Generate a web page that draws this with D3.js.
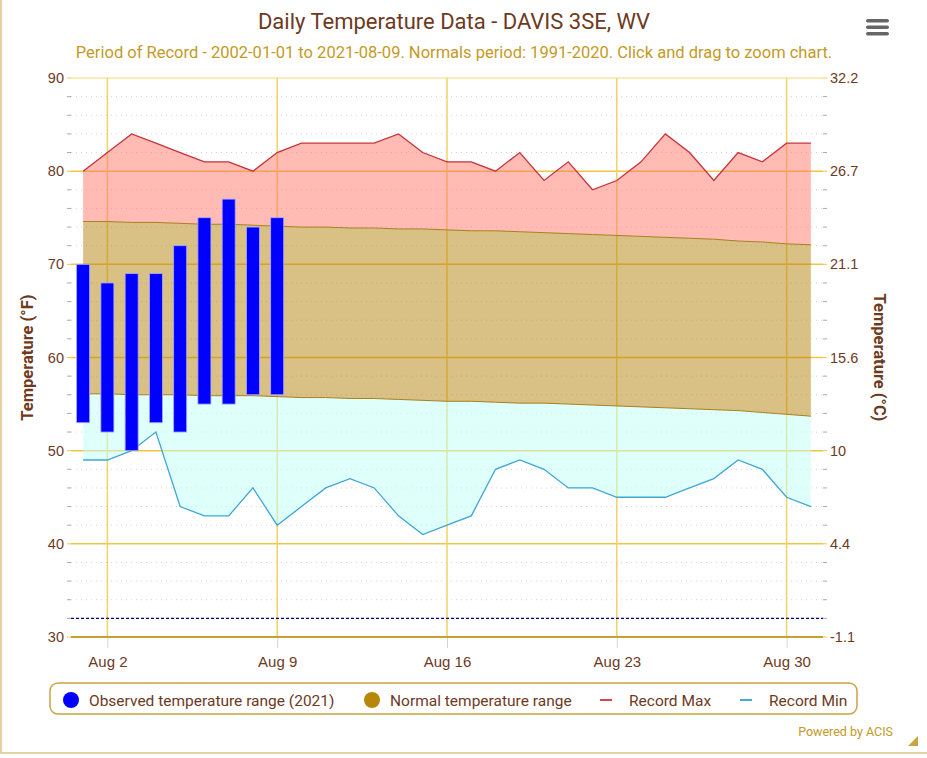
<!DOCTYPE html>
<html>
<head>
<meta charset="utf-8">
<script src="https://cdn.jsdelivr.net/npm/d3@7"></script>
<style>
  html, body { margin: 0; padding: 0; background: #fff; }
  svg { display: block; font-family: Roboto, "Noto Sans", sans-serif; }
</style>
</head>
<body>
<svg id="chart"></svg>
<script>
const width = 927;
const height = 758;

// August 2021, day of month
const days = d3.range(1, 32);
const recMax = [80, 82, 84, 83, 82, 81, 81, 80, 82, 83, 83, 83, 83, 84, 82, 81,
                81, 80, 82, 79, 81, 78, 79, 81, 84, 82, 79, 82, 81, 83, 83];
const recMin = [49, 49, 50, 52, 44, 43, 43, 46, 42, 44, 46, 47, 46, 43, 41, 42,
                43, 48, 49, 48, 46, 46, 45, 45, 45, 46, 47, 49, 48, 45, 44];
const normMax = [74.6, 74.6, 74.5, 74.5, 74.4, 74.3, 74.3, 74.2, 74.1, 74.0, 74.0,
                 73.9, 73.9, 73.8, 73.8, 73.7, 73.6, 73.6, 73.5, 73.4, 73.3, 73.2,
                 73.1, 73.0, 72.9, 72.8, 72.7, 72.5, 72.4, 72.2, 72.1];
const normMin = [56.1, 56.1, 56.0, 56.0, 56.0, 55.9, 55.9, 55.9, 55.8, 55.7, 55.7,
                 55.6, 55.6, 55.5, 55.4, 55.3, 55.3, 55.2, 55.1, 55.1, 55.0, 54.9,
                 54.8, 54.7, 54.6, 54.5, 54.4, 54.3, 54.1, 53.9, 53.7];
const obsDays = [1, 2, 3, 4, 5, 6, 7, 8, 9];
const obsLow  = [53, 52, 50, 53, 52, 55, 55, 56, 56];
const obsHigh = [70, 68, 69, 69, 72, 75, 77, 74, 75];

const fTicks = [30, 40, 50, 60, 70, 80, 90];
const fMinor = [32, 34, 36, 38, 42, 44, 46, 48, 52, 54, 56, 58, 62, 64, 66, 68, 72, 74, 76, 78, 82, 84, 86, 88];
const dateTicks = [2, 9, 16, 23, 30];
const freezing = 32;

const legendItems = [
  { label: "Observed temperature range (2021)", kind: "dot", color: "#0000ff" },
  { label: "Normal temperature range", kind: "dot", color: "#b8860b" },
  { label: "Record Max", kind: "line", color: "#d9434a" },
  { label: "Record Min", kind: "line", color: "#45a9de" }
];

const brown = "#6d3a1e";
const gold = "#c49a26";

const plot = { left: 71, right: 823, top: 78, bottom: 637 };
const day = d => new Date(2021, 7, d);

const svg = d3.select("#chart").attr("width", width).attr("height", height);

// outer frame
svg.append("rect")
   .attr("x", 1).attr("y", -2).attr("width", width + 2).attr("height", 755)
   .attr("fill", "none").attr("stroke", "#dcc583").attr("stroke-width", 1.5);

const xScale = d3.scaleTime()
                 .domain([new Date(2021, 6, 31, 12), new Date(2021, 7, 31, 12)])
                 .range([plot.left, plot.right]);
const yScale = d3.scaleLinear().domain([30, 90]).range([plot.bottom, plot.top]);
const cScale = d3.scaleLinear()
                 .domain([(30 - 32) * 5 / 9, (90 - 32) * 5 / 9])
                 .range([plot.bottom, plot.top]);

// minor dotted grid
svg.append("g").selectAll("line").data(fMinor).enter().append("line")
   .attr("x1", plot.left).attr("x2", plot.right)
   .attr("y1", d => yScale(d)).attr("y2", d => yScale(d))
   .attr("stroke", "#d4d4d4").attr("stroke-dasharray", "1,4");

// major horizontal grid
svg.append("g").selectAll("line").data(fTicks.slice(1)).enter().append("line")
   .attr("x1", plot.left).attr("x2", plot.right)
   .attr("y1", d => yScale(d)).attr("y2", d => yScale(d))
   .attr("stroke", d => d === 90 ? "#f8e5a0" : "#f3c440").attr("stroke-width", 1.5);

// vertical grid
svg.append("g").selectAll("line").data(dateTicks).enter().append("line")
   .attr("x1", d => xScale(day(d))).attr("x2", d => xScale(day(d)))
   .attr("y1", plot.top).attr("y2", plot.bottom)
   .attr("stroke", "#f3d262").attr("stroke-width", 1.5);

const area = (hi, lo) => d3.area()
  .x((d, i) => xScale(day(days[i])))
  .y0((d, i) => yScale(lo[i]))
  .y1((d, i) => yScale(hi[i]));

const line = arr => d3.line()
  .x((d, i) => xScale(day(days[i])))
  .y((d, i) => yScale(arr[i]));

// record max band
svg.append("path").datum(days).attr("d", area(recMax, normMax))
   .attr("fill", "rgb(255,120,105)").attr("fill-opacity", 0.5);
// record min band
svg.append("path").datum(days).attr("d", area(normMin, recMin))
   .attr("fill", "rgb(192,255,248)").attr("fill-opacity", 0.5);
// normal band
svg.append("path").datum(days).attr("d", area(normMax, normMin))
   .attr("fill", "rgb(180,130,10)").attr("fill-opacity", 0.5);
svg.append("path").datum(days).attr("d", line(normMax))
   .attr("fill", "none").attr("stroke", "#a8801e").attr("stroke-width", 1);
svg.append("path").datum(days).attr("d", line(normMin))
   .attr("fill", "none").attr("stroke", "#a8801e").attr("stroke-width", 1);

svg.append("path").datum(days).attr("d", line(recMax))
   .attr("fill", "none").attr("stroke", "#c8323a").attr("stroke-width", 1.3);
svg.append("path").datum(days).attr("d", line(recMin))
   .attr("fill", "none").attr("stroke", "#3ea6d6").attr("stroke-width", 1.3);

// observed bars
const barW = 13;
svg.append("g").selectAll("rect").data(obsDays).enter().append("rect")
   .attr("x", d => xScale(day(d)) - barW / 2)
   .attr("width", barW)
   .attr("y", (d, i) => yScale(obsHigh[i]))
   .attr("height", (d, i) => yScale(obsLow[i]) - yScale(obsHigh[i]))
   .attr("fill", "#0000ff").attr("stroke", "#a8a8ff").attr("stroke-width", 0.8);

// freezing line
svg.append("line")
   .attr("x1", plot.left).attr("x2", plot.right)
   .attr("y1", yScale(freezing)).attr("y2", yScale(freezing))
   .attr("stroke", "#000080").attr("stroke-width", 1.3).attr("stroke-dasharray", "3,2");

// bottom axis line
svg.append("line")
   .attr("x1", plot.left).attr("x2", plot.right)
   .attr("y1", plot.bottom).attr("y2", plot.bottom)
   .attr("stroke", "#c8a032").attr("stroke-width", 2);

// x axis
const xAxis = d3.axisBottom(xScale)
                .tickValues(dateTicks.map(day))
                .tickFormat(d3.timeFormat("%b %-d"))
                .tickSize(10).tickSizeOuter(0);
const gx = svg.append("g")
   .attr("transform", "translate(0," + (plot.bottom + 1) + ")")
   .call(xAxis);
gx.select(".domain").remove();
gx.selectAll(".tick line").attr("stroke", "#ccd6eb");
gx.selectAll(".tick text").attr("fill", brown).attr("font-size", 15).attr("dy", "1.05em");

// left axis
const yAxis = d3.axisLeft(yScale).tickValues(fTicks).tickSize(0).tickPadding(7);
const gy = svg.append("g").attr("transform", "translate(" + plot.left + ",0)").call(yAxis);
gy.select(".domain").remove();
gy.selectAll(".tick text").attr("fill", brown).attr("font-size", 14.5);
svg.append("g").selectAll("line").data(fMinor.concat(fTicks)).enter().append("line")
   .attr("x1", plot.left - 4).attr("x2", plot.left)
   .attr("y1", d => yScale(d)).attr("y2", d => yScale(d))
   .attr("stroke", d => fTicks.includes(d) ? "#f3c648" : "#aaa").attr("stroke-width", 1);

// right axis (Celsius)
const yAxisC = d3.axisRight(cScale)
                 .tickValues(fTicks.map(f => (f - 32) * 5 / 9))
                 .tickFormat(v => String(+v.toFixed(1)))
                 .tickSize(0).tickPadding(7);
const gc = svg.append("g").attr("transform", "translate(" + plot.right + ",0)").call(yAxisC);
gc.select(".domain").remove();
gc.selectAll(".tick text").attr("fill", brown).attr("font-size", 14.5);
svg.append("g").selectAll("line").data(fMinor.concat(fTicks)).enter().append("line")
   .attr("x1", plot.right).attr("x2", plot.right + 4)
   .attr("y1", d => yScale(d)).attr("y2", d => yScale(d))
   .attr("stroke", d => fTicks.includes(d) ? "#f3c648" : "#aaa").attr("stroke-width", 1);

// axis titles
svg.append("text")
   .attr("transform", "translate(33," + yScale(60) + ") rotate(-90)")
   .attr("text-anchor", "middle").attr("fill", brown)
   .attr("font-size", 16.5).attr("font-weight", "bold")
   .text("Temperature (°F)");
svg.append("text")
   .attr("transform", "translate(874," + yScale(60) + ") rotate(90)")
   .attr("text-anchor", "middle").attr("fill", brown)
   .attr("font-size", 16.5).attr("font-weight", "bold")
   .text("Temperature (°C)");

// titles
svg.append("text").attr("x", 454).attr("y", 29)
   .attr("text-anchor", "middle").attr("fill", brown).attr("font-size", 22)
   .text("Daily Temperature Data - DAVIS 3SE, WV");
svg.append("text").attr("x", 454).attr("y", 58)
   .attr("text-anchor", "middle").attr("fill", gold).attr("font-size", 16.5)
   .text("Period of Record - 2002-01-01 to 2021-08-09. Normals period: 1991-2020. Click and drag to zoom chart.");

// menu icon
svg.append("g").selectAll("rect").data([0, 1, 2]).enter().append("rect")
   .attr("x", 866).attr("y", d => 19 + d * 6.5).attr("width", 23).attr("height", 3.6)
   .attr("rx", 1.8).attr("fill", "#666");

// legend
svg.append("rect")
   .attr("x", 50).attr("y", 683).attr("width", 807).attr("height", 31).attr("rx", 8)
   .attr("fill", "none").attr("stroke", "#c9a443").attr("stroke-width", 1.5);
const legendX = [71, 372, 606, 746];
const lg = svg.append("g").selectAll("g").data(legendItems).enter().append("g")
   .attr("transform", (d, i) => "translate(" + legendX[i] + ",700)");
lg.filter(d => d.kind === "dot").append("circle")
  .attr("r", 8).attr("fill", d => d.color);
lg.filter(d => d.kind === "line").append("line")
  .attr("x1", -6).attr("x2", 6).attr("stroke", d => d.color).attr("stroke-width", 2);
lg.append("text")
  .attr("x", d => d.kind === "dot" ? 18 : 23).attr("y", 5.5)
  .attr("fill", brown).attr("font-size", 15.5)
  .text(d => d.label);

// credits
svg.append("text").attr("x", 893).attr("y", 736)
   .attr("text-anchor", "end").attr("fill", gold).attr("font-size", 12.5)
   .text("Powered by ACIS");
svg.append("path").attr("d", "M908,746 L918,736 L918,746 Z").attr("fill", "#c9a443");
</script>
</body>
</html>
